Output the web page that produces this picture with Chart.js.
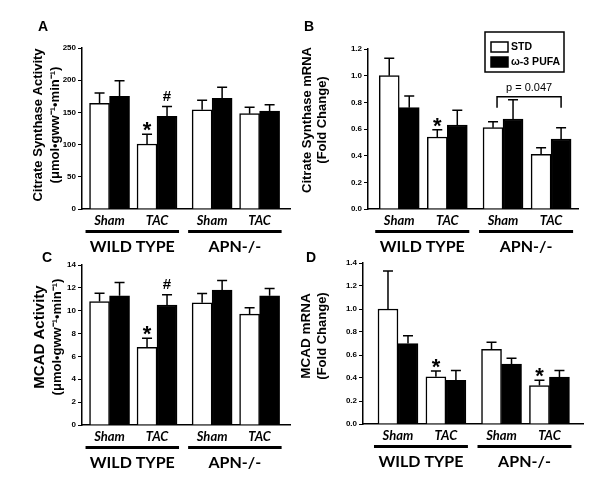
<!DOCTYPE html>
<html>
<head>
<meta charset="utf-8">
<script src="https://cdn.jsdelivr.net/npm/chart.js@4.4.0/dist/chart.umd.min.js"></script>
<style>
  html, body { margin: 0; padding: 0; background: #fff; }
  #wrap { position: relative; width: 600px; height: 502px; overflow: hidden; }
  canvas { position: absolute; }
</style>
</head>
<body>
<div id="wrap">
  <canvas id="panelA" width="300" height="262" style="left:0;top:0"></canvas>
  <canvas id="panelB" width="300" height="262" style="left:300px;top:0"></canvas>
  <canvas id="panelC" width="300" height="252" style="left:0;top:250px"></canvas>
  <canvas id="panelD" width="300" height="252" style="left:300px;top:250px"></canvas>
</div>
<script>
const conditions = ['Sham', 'TAC', 'Sham', 'TAC'];
const genotypes = ['WILD TYPE', 'APN-/-'];
const seriesNames = ['STD', 'ω-3 PUFA'];

// A - citrate synthase activity
const csActStd = [164, 101, 154, 148];
const csActStdErr = [16, 15, 15, 10];
const csActPufa = [175, 144, 172, 152];
const csActPufaErr = [24, 15, 17, 10];
const csActStdMarks = ['', '*', '', ''];
const csActPufaMarks = ['', '#', '', ''];
const csActTicks = [0, 50, 100, 150, 200, 250];

// B - citrate synthase mRNA
const csMrnaStd = [1.00, 0.54, 0.61, 0.41];
const csMrnaStdErr = [0.13, 0.055, 0.045, 0.05];
const csMrnaPufa = [0.76, 0.63, 0.675, 0.525];
const csMrnaPufaErr = [0.087, 0.11, 0.145, 0.085];
const csMrnaStdMarks = ['', '*', '', ''];
const csMrnaPufaMarks = ['', '', '', ''];
const csMrnaTicks = [0, 0.2, 0.4, 0.6, 0.8, 1.0, 1.2];
const csMrnaPValue = 'p = 0.047';

// C - MCAD activity
const mcadActStd = [10.8, 6.8, 10.7, 9.7];
const mcadActStdErr = [0.73, 0.8, 0.8, 0.56];
const mcadActPufa = [11.3, 10.5, 11.8, 11.3];
const mcadActPufaErr = [1.16, 0.9, 0.85, 0.64];
const mcadActStdMarks = ['', '*', '', ''];
const mcadActPufaMarks = ['', '#', '', ''];
const mcadActTicks = [0, 2, 4, 6, 8, 10, 12, 14];

// D - MCAD mRNA
const mcadMrnaStd = [1.00, 0.41, 0.65, 0.335];
const mcadMrnaStdErr = [0.33, 0.05, 0.06, 0.045];
const mcadMrnaPufa = [0.70, 0.38, 0.52, 0.407];
const mcadMrnaPufaErr = [0.067, 0.085, 0.052, 0.058];
const mcadMrnaStdMarks = ['', '*', '', '*'];
const mcadMrnaPufaMarks = ['', '', '', ''];
const mcadMrnaTicks = [0, 0.2, 0.4, 0.6, 0.8, 1.0, 1.2, 1.4];

const SANS = '"Liberation Sans", Arial, sans-serif';
const genotypeGap = 0.16;
const xPos = i => i + (i >= 2 ? genotypeGap : 0);

// draws error bars, significance marks, group lines, titles, legend and bracket
function makeAnnotator(p) {
  return {
    id: 'annotate',
    afterDatasetsDraw(chart) {
      const ctx = chart.ctx, ys = chart.scales.y, area = chart.chartArea;
      const bars = chart.data.datasets.map((ds, di) => chart.getDatasetMeta(di).data);
      ctx.save();
      ctx.strokeStyle = '#000';
      ctx.fillStyle = '#000';

      chart.data.datasets.forEach((ds, di) => {
        bars[di].forEach((bar, i) => {
          const top = ys.getPixelForValue(ds.data[i].y + ds.errors[i]);
          ctx.lineWidth = 1.5;
          ctx.beginPath();
          ctx.moveTo(bar.x, bar.y);
          ctx.lineTo(bar.x, top);
          ctx.moveTo(bar.x - 5, top);
          ctx.lineTo(bar.x + 5, top);
          ctx.stroke();
          const mark = ds.marks[i];
          if (mark) {
            const star = mark === '*';
            ctx.font = star ? 'bold 22px ' + SANS : 'bold 15px ' + SANS;
            ctx.textAlign = 'center';
            ctx.textBaseline = 'alphabetic';
            const d = ctx.measureText(mark).actualBoundingBoxDescent;
            ctx.fillText(mark, bar.x, top - (star ? 3 : 6) - d);
          }
        });
      });

      // genotype underlines and names
      genotypes.forEach((g, gi) => {
        const first = bars[0][gi * 2], last = bars[1][gi * 2 + 1];
        const l = first.x - first.width / 2 - 4, r = last.x + last.width / 2 + 2;
        ctx.fillRect(l, area.bottom + 21, r - l, 3);
        ctx.font = 'bold 16px Lato, ' + SANS;
        ctx.textAlign = 'center';
        ctx.textBaseline = 'middle';
        ctx.fillText(g, (l + r) / 2, area.bottom + 38);
      });

      // panel letter
      ctx.font = 'bold 14px ' + SANS;
      ctx.textAlign = 'center';
      ctx.textBaseline = 'middle';
      ctx.fillText(p.letter, p.letterAt[0], p.letterAt[1]);

      // y axis title
      p.title.forEach((t, k) => {
        ctx.save();
        ctx.font = 'bold ' + p.titleSize[k] + 'px ' + SANS;
        ctx.translate(p.titleX[k], p.titleY);
        ctx.rotate(-Math.PI / 2);
        ctx.fillText(t, 0, 0);
        ctx.restore();
      });

      if (p.legend) {
        const bw = 79, bh = 40;
        const bx = area.right - 14 - bw, by = area.top - 17;
        ctx.lineWidth = 1.5;
        ctx.strokeRect(bx, by, bw, bh);
        chart.data.datasets.forEach((ds, di) => {
          const sy = by + 10 + di * 15;
          ctx.fillStyle = ds.backgroundColor;
          ctx.fillRect(bx + 6, sy, 17, 10);
          ctx.strokeRect(bx + 6, sy, 17, 10);
          ctx.fillStyle = '#000';
          ctx.font = 'bold 10.5px ' + SANS;
          ctx.textAlign = 'left';
          ctx.textBaseline = 'middle';
          ctx.fillText(ds.label, bx + 26, sy + 5);
        });
      }

      if (p.bracket) {
        const tops = chart.data.datasets.flatMap(ds =>
          [2, 3].map(i => ys.getPixelForValue(ds.data[i].y + ds.errors[i])));
        const yb = Math.min(...tops) - 3;
        const l = bars[0][2].x + 4, r = bars[1][3].x;
        ctx.lineWidth = 1.5;
        ctx.beginPath();
        ctx.moveTo(l, yb + 11);
        ctx.lineTo(l, yb);
        ctx.lineTo(r, yb);
        ctx.lineTo(r, yb + 11);
        ctx.stroke();
        ctx.font = '11px ' + SANS;
        ctx.textAlign = 'center';
        ctx.textBaseline = 'bottom';
        ctx.fillText(p.bracket, (l + r) / 2, yb - 3);
      }
      ctx.restore();
    }
  };
}

function makePanel(id, p) {
  const canvas = document.getElementById(id);
  const W = canvas.width, H = canvas.height;
  const toPoints = vals => vals.map((v, i) => ({ x: xPos(i), y: v }));
  return new Chart(canvas, {
    type: 'bar',
    data: {
      datasets: [
        { label: seriesNames[0], data: toPoints(p.std), errors: p.stdErr, marks: p.stdMarks,
          backgroundColor: '#ffffff', borderColor: '#000', borderWidth: 1.5, barThickness: 20 },
        { label: seriesNames[1], data: toPoints(p.pufa), errors: p.pufaErr, marks: p.pufaMarks,
          backgroundColor: '#000000', borderColor: '#000', borderWidth: 1.5, barThickness: 20 }
      ]
    },
    options: {
      responsive: false,
      animation: false,
      devicePixelRatio: 1,
      layout: { padding: { left: 0, top: p.box.top, right: W - p.box.right, bottom: 0 } },
      plugins: { legend: { display: false }, tooltip: { enabled: false } },
      scales: {
        x: {
          type: 'linear', min: p.xRange[0], max: p.xRange[1], offset: false,
          grid: { display: false, drawTicks: false, offset: false },
          border: { display: true, color: '#000', width: 1.5 },
          afterBuildTicks: s => { s.ticks = conditions.map((c, i) => ({ value: xPos(i) })); },
          afterFit: s => { s.height = H - p.box.bottom; },
          ticks: {
            autoSkip: false, maxRotation: 0, padding: 4, color: '#000',
            font: { family: 'Lato, ' + SANS, weight: 'bold', style: 'italic', size: 13 },
            callback: (v, i) => conditions[i]
          }
        },
        y: {
          min: 0, max: p.ticks[p.ticks.length - 1],
          afterBuildTicks: s => { s.ticks = p.ticks.map(v => ({ value: v })); },
          afterFit: s => { s.width = p.box.left; },
          grid: { display: true, drawOnChartArea: false, drawTicks: true, tickLength: 4, color: '#000', lineWidth: 1 },
          border: { display: true, color: '#000', width: 1.5 },
          ticks: {
            padding: 2, color: '#000',
            font: { family: SANS, weight: 'bold', size: 8 },
            callback: v => v.toFixed(p.decimals)
          }
        }
      }
    },
    plugins: [makeAnnotator(p)]
  });
}

makePanel('panelA', {
  std: csActStd, stdErr: csActStdErr, pufa: csActPufa, pufaErr: csActPufaErr,
  stdMarks: csActStdMarks, pufaMarks: csActPufaMarks, ticks: csActTicks, decimals: 0,
  box: { left: 82, right: 290, top: 48, bottom: 209 }, xRange: [-0.58, 3.8],
  letter: 'A', letterAt: [43, 27],
  title: ['Citrate Synthase Activity', '(μmol•gww⁻¹•min⁻¹)'], titleSize: [13, 13],
  titleX: [38, 55], titleY: 125
});

makePanel('panelB', {
  std: csMrnaStd, stdErr: csMrnaStdErr, pufa: csMrnaPufa, pufaErr: csMrnaPufaErr,
  stdMarks: csMrnaStdMarks, pufaMarks: csMrnaPufaMarks, ticks: csMrnaTicks, decimals: 1,
  box: { left: 68, right: 278, top: 49, bottom: 209 }, xRange: [-0.65, 3.72],
  letter: 'B', letterAt: [9, 27],
  title: ['Citrate Synthase mRNA', '(Fold Change)'], titleSize: [13, 13],
  titleX: [7, 22], titleY: 120,
  legend: true, bracket: csMrnaPValue
});

makePanel('panelC', {
  std: mcadActStd, stdErr: mcadActStdErr, pufa: mcadActPufa, pufaErr: mcadActPufaErr,
  stdMarks: mcadActStdMarks, pufaMarks: mcadActPufaMarks, ticks: mcadActTicks, decimals: 0,
  box: { left: 82, right: 290, top: 15, bottom: 175 }, xRange: [-0.58, 3.8],
  letter: 'C', letterAt: [47, 8],
  title: ['MCAD Activity', '(μmol•gww⁻¹•min⁻¹)'], titleSize: [15, 13],
  titleX: [40, 57], titleY: 87
});

makePanel('panelD', {
  std: mcadMrnaStd, stdErr: mcadMrnaStdErr, pufa: mcadMrnaPufa, pufaErr: mcadMrnaPufaErr,
  stdMarks: mcadMrnaStdMarks, pufaMarks: mcadMrnaPufaMarks, ticks: mcadMrnaTicks, decimals: 1,
  box: { left: 63, right: 283, top: 13, bottom: 174 }, xRange: [-0.73, 3.86],
  letter: 'D', letterAt: [11, 8],
  title: ['MCAD mRNA', '(Fold Change)'], titleSize: [13.5, 13],
  titleX: [6, 22], titleY: 86
});
</script>
</body>
</html>
